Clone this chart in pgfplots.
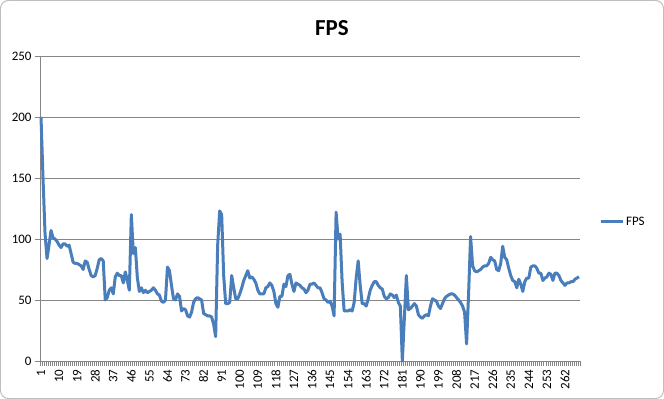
\documentclass[border=0pt]{standalone}
\usepackage{fontspec}
\setmainfont{Carlito}
\usepackage{pgfplots}
\usepackage{pgfplotstable}
\pgfplotsset{compat=1.18}
\definecolor{fpsblue}{HTML}{4A7EBB}
\definecolor{axgray}{HTML}{868686}
\definecolor{framegray}{HTML}{BFBFBF}
\pgfplotstableread{
x y
1 200
2 150
3 105
4 84
5 95
6 107
7 101
8 100
9 98
10 95
11 93
12 96
13 96
14 94
15 95
16 88
17 81
18 80
19 80
20 79
21 78
22 75
23 82
24 81
25 75
26 70
27 69
28 70
29 76
30 83
31 84
32 82
33 50
34 52
35 58
36 60
37 55
38 69
39 72
40 70
41 70
42 64
43 73
44 66
45 58
46 120
47 88
48 93
49 68
50 57
51 60
52 56
53 58
54 56
55 57
56 58
57 60
58 58
59 55
60 54
61 49
62 48
63 50
64 77
65 74
66 62
67 51
68 50
69 55
70 53
71 41
72 43
73 42
74 37
75 36
76 40
77 48
78 51
79 52
80 51
81 50
82 39
83 38
84 37
85 37
86 36
87 30
88 20
89 95
90 123
91 120
92 70
93 47
94 47
95 48
96 70
97 60
98 51
99 51
100 55
101 60
102 66
103 70
104 74
105 68
106 69
107 67
108 64
109 58
110 55
111 55
112 55
113 60
114 61
115 64
116 62
117 57
118 47
119 44
120 53
121 53
122 63
123 61
124 70
125 71
126 63
127 57
128 64
129 63
130 62
131 60
132 59
133 56
134 58
135 63
136 63
137 64
138 62
139 60
140 60
141 56
142 51
143 50
144 48
145 49
146 45
147 37
148 122
149 100
150 104
151 65
152 41
153 41
154 41
155 42
156 41
157 48
158 68
159 82
160 62
161 47
162 47
163 45
164 51
165 58
166 62
167 65
168 65
169 62
170 60
171 59
172 53
173 51
174 52
175 55
176 54
177 52
178 54
179 48
180 45
181 0
182 35
183 70
184 42
185 43
186 45
187 47
188 45
189 38
190 36
191 35
192 37
193 38
194 37
195 45
196 51
197 50
198 49
199 45
200 43
201 47
202 51
203 53
204 54
205 55
206 55
207 54
208 52
209 50
210 48
211 45
212 40
213 14
214 55
215 102
216 78
217 74
218 73
219 74
220 75
221 77
222 78
223 78
224 80
225 85
226 83
227 82
228 75
229 74
230 80
231 94
232 85
233 83
234 76
235 70
236 66
237 65
238 60
239 67
240 63
241 57
242 65
243 68
244 68
245 77
246 78
247 78
248 76
249 72
250 72
251 66
252 68
253 69
254 72
255 71
256 66
257 72
258 72
259 70
260 66
261 64
262 62
263 64
264 64
265 65
266 65
267 67
268 68
269 69
}\fpsdata
\begin{document}
\begin{tikzpicture}
\useasboundingbox (0,0) rectangle (664bp,399bp);
\draw[framegray, line width=1bp, rounded corners=8bp] (0.5bp,0.5bp) rectangle (663.5bp,398.5bp);
\node[font=\fontsize{23}{26}\selectfont\bfseries] at (332bp,371bp) {FPS};
\begin{axis}[
  at={(40bp,38bp)}, anchor=south west,
  scale only axis, width=540bp, height=305bp,
  xmin=0.5, xmax=269.5, ymin=0, ymax=250,
  ytick={0,50,...,250},
  xtick={1,10,...,262},
  minor xtick={0.5,1.5,...,269.5},
  axis x line=bottom, axis y line=left,
  axis line style={-, axgray, line width=0.75bp},
  ymajorgrids, grid style={axgray, line width=0.75bp},
  tick align=outside,
  major tick length=5bp, minor tick length=5bp,
  every tick/.style={axgray, line width=0.75bp},
  major x tick style={draw=none},
  tick label style={font=\fontsize{13}{15}\selectfont},
  /pgf/number format/assume math mode=true,
  xticklabel style={rotate=90, anchor=east},
  legend style={draw=none, fill=none, at={(1.035,0.456)}, anchor=west,
    font=\fontsize{13}{15}\selectfont, inner sep=0pt},
  legend image code/.code={\draw[#1, line width=3bp] (0bp,0bp) -- (22bp,0bp);},
  clip=false,
]
\addplot[fpsblue, line width=3bp, line join=round, mark=none] table[x=x, y=y] {\fpsdata};
\addlegendentry{FPS}
\end{axis}
\end{tikzpicture}
\end{document}
